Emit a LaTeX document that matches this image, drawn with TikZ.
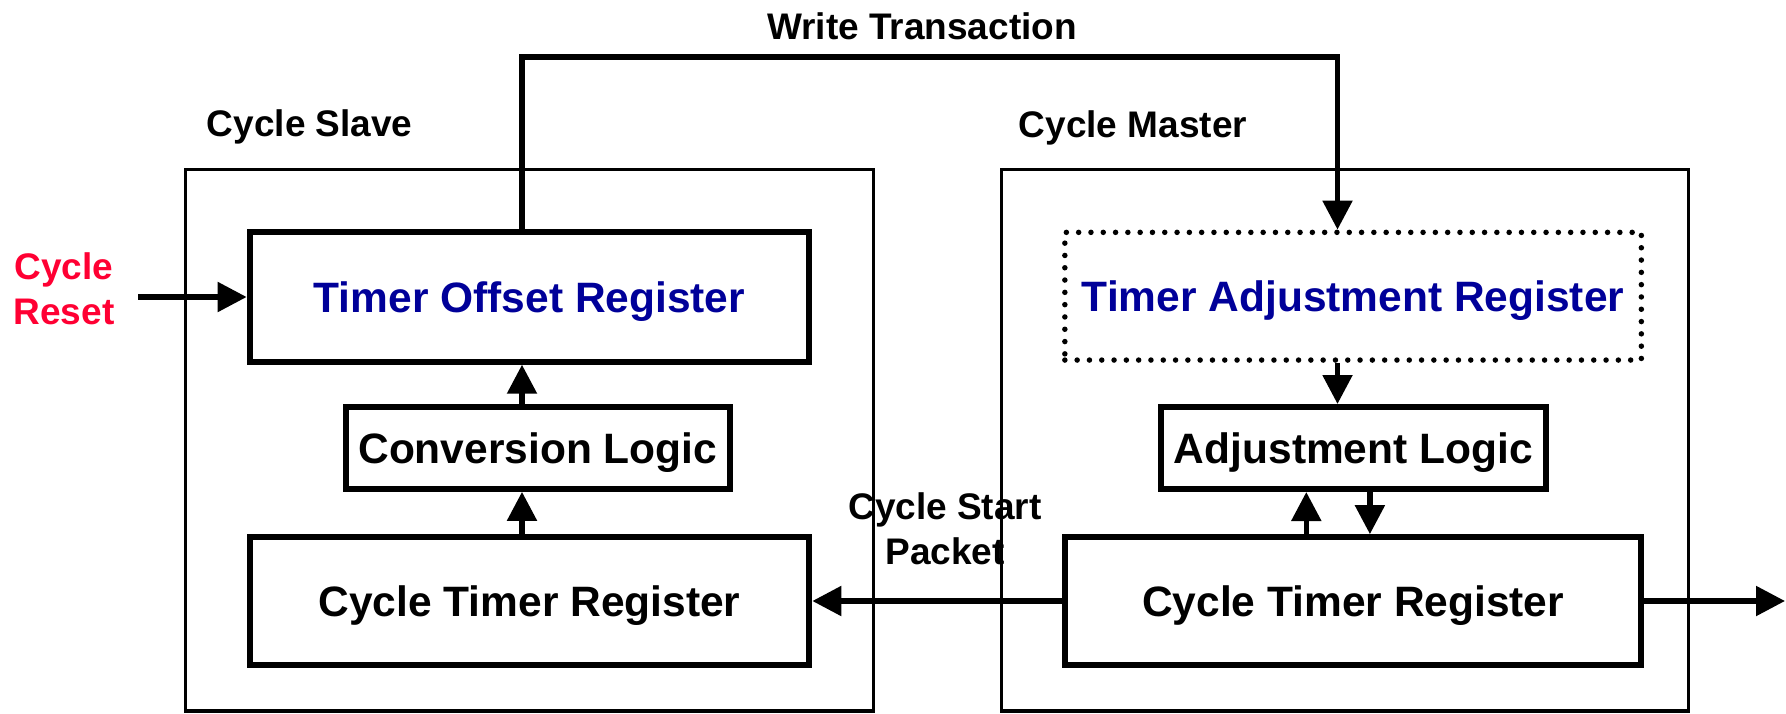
\documentclass[tikz,border=0pt]{standalone}
\usepackage{fontspec}
\setmainfont{Liberation Sans}
\usetikzlibrary{arrows.meta}
\definecolor{regblue}{RGB}{0,0,153}
\definecolor{resetred}{RGB}{255,0,51}
\begin{document}
\begin{tikzpicture}[x=1pt,y=-1pt,
  boxfont/.style={font=\fontsize{42.5}{51}\selectfont\bfseries},
  lblfont/.style={font=\fontsize{37}{45}\selectfont\bfseries},
  regbox/.style={draw, line width=6pt, inner sep=0pt, boxfont, text height=30.4pt, text depth=0pt},
  dotbox/.style={draw, line width=5.5pt, dash pattern=on 0pt off 12.3pt, line cap=round, inner sep=0pt, boxfont, text height=30.4pt, text depth=0pt},
  outerbox/.style={draw, line width=3.3pt, inner sep=0pt},
  lbl/.style={lblfont, inner sep=0pt},
  arr/.style={line width=5.3pt, -{Triangle[length=29pt,width=29pt]}},
  wire/.style={line width=5.3pt}
]
\useasboundingbox (0,0) rectangle (1786,713);
% outer boxes
\node[outerbox, minimum width=688.3pt, minimum height=541.7pt] (slave) at (529.5,440.2) {};
\node[outerbox, minimum width=687.5pt, minimum height=541.7pt] (master) at (1345,440.2) {};
% slave internals
\node[regbox, text=regblue, minimum width=559.7pt, minimum height=129.4pt] (tor) at (529.5,297) {Timer Offset Register};
\node[regbox, minimum width=384.4pt, minimum height=81.7pt] (conv) at (537.8,448) {Conversion Logic};
\node[regbox, minimum width=559.7pt, minimum height=127.7pt] (sctr) at (529.5,601) {Cycle Timer Register};
% master internals
\node[dotbox, text=regblue, minimum width=576.5pt, minimum height=127.7pt] (tar) at (1353.1,296.2) {Timer Adjustment Register};
\node[regbox, minimum width=384.2pt, minimum height=82pt] (adj) at (1353.4,448) {Adjustment Logic};
\node[regbox, minimum width=576.5pt, minimum height=127.7pt] (mctr) at (1353.1,601) {Cycle Timer Register};
% labels
\node[lbl, anchor=base] (wtlabel) at (922,39) {Write Transaction};
\node[lbl, anchor=base west] (slavelabel) at (206.7,136) {Cycle Slave};
\node[lbl, anchor=base west] (masterlabel) at (1018.6,137) {Cycle Master};
\node[lbl, text=resetred, align=center, anchor=base] (reset) at (64,324.5) {Cycle\\Reset};
\node[lbl, align=center, anchor=base] (csp) at (945,564.5) {Cycle Start\\Packet};
% coordinates
\coordinate (wl) at (522,57);
\coordinate (wr) at (1337.5,57);
\coordinate (rs) at (138,297);
\coordinate (upx) at (1306.3,0);
\coordinate (dnx) at (1369.9,0);
\coordinate (outend) at (1785,601);
% connectors
\draw[arr] (rs) -- (tor.west);
\draw[arr, line join=miter] (tor.north -| wl) -- (wl) -- (wr) -- (tar.north -| wr);
\draw[arr] (conv.north -| wl) -- (tor.south -| wl);
\draw[arr] (sctr.north -| wl) -- (conv.south -| wl);
\draw[arr] (tar.south -| wr) -- (adj.north -| wr);
\draw[arr] (mctr.north -| upx) -- (adj.south -| upx);
\draw[arr] (adj.south -| dnx) -- (mctr.north -| dnx);
\draw[arr] (mctr.west) -- (sctr.east);
\draw[arr] (mctr.east) -- (outend);
\end{tikzpicture}
\end{document}
